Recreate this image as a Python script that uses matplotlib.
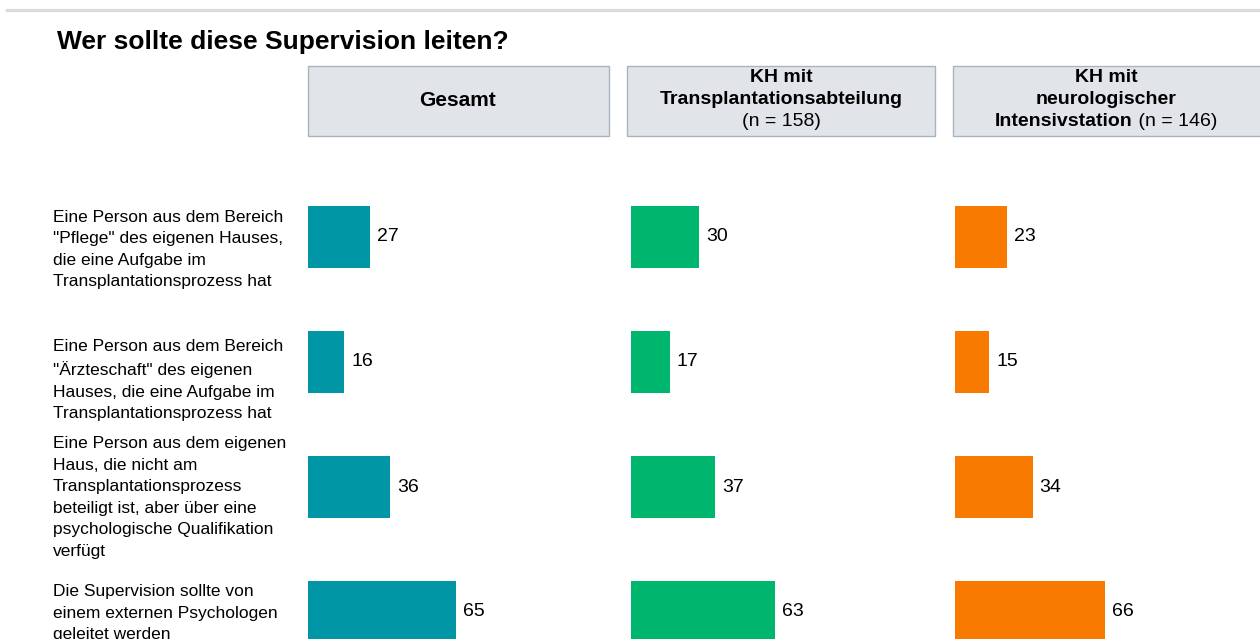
import matplotlib.pyplot as plt
from matplotlib.patches import Rectangle
from matplotlib.transforms import blended_transform_factory

plt.rcParams['font.family'] = ['Liberation Sans', 'DejaVu Sans']

title = "Wer sollte diese Supervision leiten?"

categories = [
    "Eine Person aus dem Bereich\n\"Pflege\" des eigenen Hauses,\ndie eine Aufgabe im\nTransplantationsprozess hat",
    "Eine Person aus dem Bereich\n\"Ärzteschaft\" des eigenen\nHauses, die eine Aufgabe im\nTransplantationsprozess hat",
    "Eine Person aus dem eigenen\nHaus, die nicht am\nTransplantationsprozess\nbeteiligt ist, aber über eine\npsychologische Qualifikation\nverfügt",
    "Die Supervision sollte von\neinem externen Psychologen\ngeleitet werden",
]

gesamt = [27, 16, 36, 65]
transplantation = [30, 17, 37, 63]
neurologie = [23, 15, 34, 66]

W, H = 1260, 639
fig = plt.figure(figsize=(W / 100, H / 100), dpi=100)
fig.patch.set_facecolor('white')


def fx(px):
    return px / W


def fy(py):
    return 1 - py / H


# grey rule across the top
fig.add_artist(plt.Line2D([fx(7), fx(1260)], [fy(10), fy(10)], color='#d6dddb', lw=2.4))

fig.text(fx(57), fy(42), title, fontsize=19, fontweight='bold', va='center', ha='left')

# panel header boxes
box_color = '#e1e5ea'
box_edge = '#aab4be'
boxes = [(308, 609), (627, 935), (953, 1262)]
for x0, x1 in boxes:
    fig.add_artist(Rectangle((fx(x0), fy(136)), fx(x1 - x0), (136 - 66) / H,
                             facecolor=box_color, edgecolor=box_edge, lw=1))

hdr = 14
fig.text(fx(458), fy(101), "Gesamt", fontsize=15, fontweight='bold', ha='center', va='center')

fig.text(fx(781), fy(78), "KH mit", fontsize=hdr, fontweight='bold', ha='center', va='center')
fig.text(fx(781), fy(100), "Transplantationsabteilung", fontsize=hdr, fontweight='bold',
         ha='center', va='center')
fig.text(fx(781), fy(122), "(n = 158)", fontsize=hdr, ha='center', va='center')

fig.text(fx(1106), fy(78), "KH mit", fontsize=hdr, fontweight='bold', ha='center', va='center')
fig.text(fx(1106), fy(100), "neurologischer", fontsize=hdr, fontweight='bold',
         ha='center', va='center')
t_bold = fig.text(0, fy(122), "Intensivstation", fontsize=hdr, fontweight='bold',
                  ha='left', va='center')
t_norm = fig.text(0, fy(122), " (n = 146)", fontsize=hdr, ha='left', va='center')
fig.canvas.draw()
r = fig.canvas.get_renderer()
wb = t_bold.get_window_extent(r).width
wn = t_norm.get_window_extent(r).width
start = 1106 - (wb + wn) / 2
t_bold.set_x(fx(start))
t_norm.set_x(fx(start + wb))

# bar panels
scale = 2.28          # pixels per percent
panel_left = [308, 631, 955]
colors = ['#0096a6', '#00b56d', '#f97a00']
series = [gesamt, transplantation, neurologie]
ax_top, ax_bot = 150, H
y_first, y_step = 237, 125
ylim = ((ax_bot - y_first) / y_step, (ax_top - y_first) / y_step)
ypos = list(range(len(categories)))

axes = []
for left, vals, col in zip(panel_left, series, colors):
    ax = fig.add_axes([fx(left), 0, fx(300), (ax_bot - ax_top) / H])
    ax.set_xlim(0, 300 / scale)
    ax.set_ylim(*ylim)
    bars = ax.barh(ypos, vals, height=0.5, color=col, edgecolor='none')
    ax.bar_label(bars, labels=[str(v) for v in vals], padding=5, fontsize=14)
    ax.axis('off')
    axes.append(ax)

# question labels on the left (last one runs off the bottom edge)
label_shift = [0.10, 0.145, 0.085, 0.01]
trans = blended_transform_factory(fig.transFigure, axes[0].transData)
for y, text, dy in zip(ypos, categories, label_shift):
    fig.text(fx(53), y + dy, text, transform=trans, fontsize=12.5, ha='left', va='center',
             linespacing=1.54)

fig.savefig('out.png', dpi=100)
